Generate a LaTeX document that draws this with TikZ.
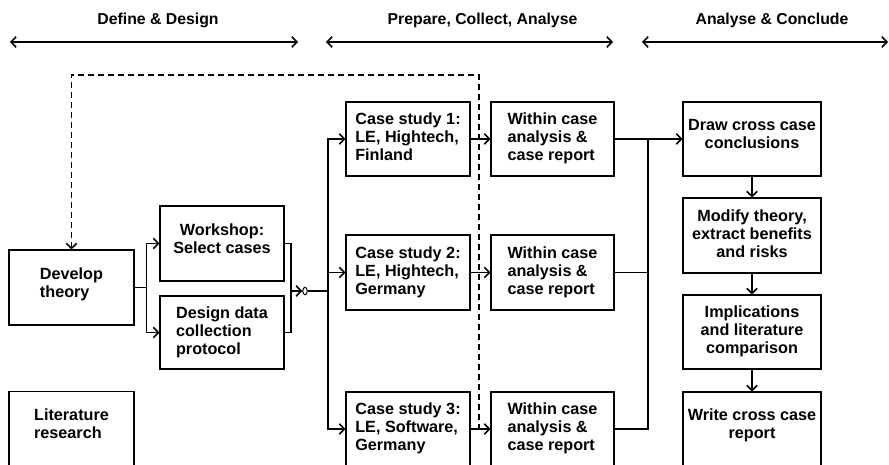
\documentclass[tikz,border=0pt]{standalone}
\usepackage{fontspec}
\setmainfont{Liberation Sans}
\usetikzlibrary{arrows.meta,shapes.geometric}
\newcommand{\TL}[1]{\begin{tabular}{@{}l@{}}#1\end{tabular}}
\newcommand{\TC}[1]{\begin{tabular}{@{}c@{}}#1\end{tabular}}
\newcommand{\TLr}[1]{\raisebox{3pt}[\height][\depth]{\TL{#1}}}
\newcommand{\TCr}[1]{\raisebox{3pt}[\height][\depth]{\TC{#1}}}
\begin{document}
\begin{tikzpicture}[x=1pt,y=-1pt,
  >={Straight Barb[length=5pt,width=10.5pt]},
  txt/.style={font=\fontsize{15.8}{18}\selectfont\bfseries},
  box/.style={draw,line width=1.1pt,inner sep=0pt,font=\fontsize{16.2}{18}\selectfont\bfseries},
  boxa/.style={box,minimum width=125pt,minimum height=75pt},
  boxc/.style={box,minimum width=124pt,minimum height=74pt},
  boxr/.style={box,minimum width=138pt,minimum height=74pt},
  conn/.style={line width=1.6pt},
  dconn/.style={line width=1.6pt,dash pattern=on 6pt off 4pt},
  phase/.style={line width=1.6pt,<->},
  junc/.style={ellipse,draw,line width=1pt,inner sep=0pt,minimum width=4.5pt,minimum height=7.5pt}]
\useasboundingbox (0,0) rectangle (889,465);
\clip (0,0) rectangle (889,465);
% phase headers
\node[txt] (h1) at (158,20) {Define \& Design};
\node[txt] (h2) at (482.5,20) {Prepare, Collect, Analyse};
\node[txt] (h3) at (772,20) {Analyse \& Conclude};
\coordinate (a1l) at (10,42); \coordinate (a1r) at (298,42);
\coordinate (a2l) at (326,42); \coordinate (a2r) at (613,42);
\coordinate (a3l) at (642,42); \coordinate (a3r) at (888,42);
\draw[phase] (a1l) -- (a1r);
\draw[phase] (a2l) -- (a2r);
\draw[phase] (a3l) -- (a3r);
% boxes
\node[boxa] (dt) at (71.5,287.5) {\TLr{Develop\\theory}};
\node[boxa] (lr) at (71.5,429) {\TLr{Literature\\research}};
\node[boxc,minimum height=75pt] (ws) at (222,243.5) {\TCr{Workshop:\\Select cases}};
\node[boxc,minimum height=73pt] (dd) at (222,332.5) {\TL{Design data\\collection\\protocol}};
\node[boxc] (cs1) at (408,139) {\TL{Case study 1:\\LE, Hightech,\\Finland}};
\node[boxc,minimum height=75pt] (cs2) at (408,272.5) {\TL{Case study 2:\\LE, Hightech,\\Germany}};
\node[boxc] (cs3) at (408,429) {\TL{Case study 3:\\LE, Software,\\Germany}};
\node[boxc,minimum width=123pt] (wc1) at (552.5,139) {\TL{Within case\\analysis \&\\case report}};
\node[boxc,minimum width=123pt,minimum height=75pt] (wc2) at (552.5,272.5) {\TL{Within case\\analysis \&\\case report}};
\node[boxc,minimum width=123pt] (wc3) at (552.5,429) {\TL{Within case\\analysis \&\\case report}};
\node[boxr] (dc) at (752,139) {\TCr{Draw cross case\\conclusions}};
\node[boxr,minimum height=75pt] (mt) at (752,235.5) {\TC{Modify theory,\\extract benefits\\and risks}};
\node[boxr] (im) at (752,332) {\TC{Implications\\and literature\\comparison}};
\node[boxr] (wr) at (752,429) {\TCr{Write cross case\\report}};
% left connectors
\draw[conn,->] (dt.east) -- ++(12,0) |- (ws.west);
\draw[conn,->] (dt.east) -- ++(12,0) |- (dd.west);
\coordinate (jn) at (291,291);
\node[junc] (oc) at (305,291) {};
\draw[conn] (ws.east) -| (jn);
\draw[conn] (dd.east) -| (jn);
\draw[conn,->] (jn) -- (oc.west);
\coordinate (bus) at (328,291);
\draw[conn] (oc.east) -- (bus);
\draw[conn,->] (bus) |- (cs1.west);
\draw[conn,->] (bus) |- (cs2.west);
\draw[conn,->] (bus) |- (cs3.west);
% case to within
\draw[conn,->] (cs1.east) -- (wc1.west);
\draw[conn,->] (cs2.east) -- (wc2.west);
\draw[conn,->] (cs3.east) -- (wc3.west);
% right bus
\coordinate (rb) at (648,139);
\draw[conn,->] (wc1.east) -- (dc.west);
\draw[conn] (wc2.east) -| (rb);
\draw[conn] (wc3.east) -| (rb);
% right column
\draw[conn,->] (dc.south) -- (mt.north);
\draw[conn,->] (mt.south) -- (im.north);
\draw[conn,->] (im.south) -- (wr.north);
% dashed feedback
\coordinate (dend) at (479,430);
\coordinate (dtop) at (479,75);
\draw[dconn,->] (dend) -- (dtop) -| (dt.north);
\end{tikzpicture}
\end{document}
